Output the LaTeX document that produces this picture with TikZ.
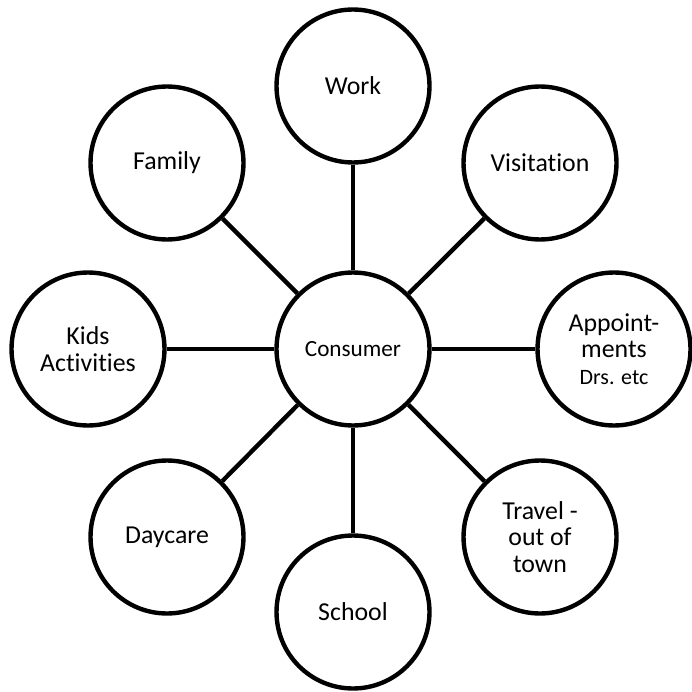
\documentclass[tikz,border=0pt]{standalone}
\usepackage{fontspec}
\setmainfont{Carlito}[Ligatures={NoCommon,NoContextual}]
\usetikzlibrary{positioning}

\begin{document}
\begin{tikzpicture}[x=0.02cm,y=-0.02cm,
        bubble/.style={draw,circle,line width=2.5pt,minimum size=3.06cm,inner sep=0pt,align=center,font=\fontsize{14.7}{15}\selectfont},
        link/.style={line width=2.5pt}]
            \useasboundingbox (0,0) rectangle (692,692);
            \node [bubble,font=\fontsize{13.2}{14}\selectfont](consumer) at (353,349){Consumer};
            \node [bubble](work) at (353,86){Work};
            \node [bubble](visit) at (540,163){Visitation};
            \node [bubble](appt) at (614,349){Appoint-\\ments\\{\fontsize{12.5}{15}\selectfont Drs. etc}};
            \node [bubble](travel) at (540,537){Travel -\\out of\\town};
            \node [bubble](school) at (353,612){School};
            \node [bubble](daycare) at (167,537){Daycare};
            \node [bubble](kids) at (88,349){Kids\\Activities};
            \node [bubble](family) at (167,163){Family};

        \foreach \n in {work,visit,appt,travel,school,daycare,kids,family}
            \draw[link] (consumer) -- (\n);
        \end{tikzpicture}
\end{document}
